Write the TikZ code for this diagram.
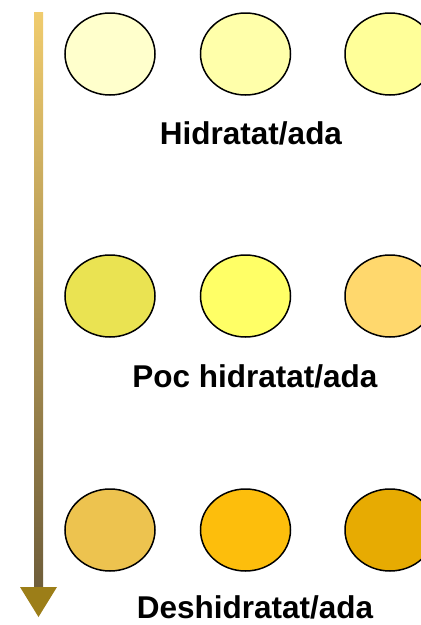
\documentclass[tikz,border=0pt]{standalone}
\usepackage{fontspec}
\setmainfont{Liberation Sans}
\definecolor{shafttop}{HTML}{F0CC6E}
\definecolor{shaftbot}{HTML}{6F5E3A}
\definecolor{headcol}{HTML}{9C7E18}
\definecolor{hidA}{HTML}{FFFFCC}
\definecolor{hidB}{HTML}{FFFFAA}
\definecolor{hidC}{HTML}{FFFF99}
\definecolor{pocA}{HTML}{EAE352}
\definecolor{pocB}{HTML}{FFFF66}
\definecolor{pocC}{HTML}{FFD86D}
\definecolor{desA}{HTML}{EDC34F}
\definecolor{desB}{HTML}{FDBE0C}
\definecolor{desC}{HTML}{E7AB02}
\begin{document}
\begin{tikzpicture}[x=1pt,y=-1pt,
  drop/.style={draw=black,line width=1.5pt},
  label/.style={anchor=base,font=\fontsize{31.5}{36}\selectfont\bfseries,inner sep=0pt}]
\useasboundingbox (0,0) rectangle (421,625);
\clip (0,0) rectangle (421,625);

\coordinate (top) at (38.5,12);
\coordinate (bot) at (38.5,587);
\coordinate (tip) at (38.5,617);

\shade[top color=shafttop,bottom color=shaftbot] ([xshift=-4.5pt]top) rectangle ([xshift=4.5pt]bot);
\fill[headcol] ([xshift=-18.5pt]bot) -- ([xshift=18.5pt]bot) -- (tip) -- cycle;

\coordinate (h1) at (110,54);
\coordinate (h2) at (245.5,54);
\coordinate (h3) at (390,54);
\coordinate (p1) at (110,296);
\coordinate (p2) at (245.5,296);
\coordinate (p3) at (390,296);
\coordinate (d1) at (110,530);
\coordinate (d2) at (245.5,530);
\coordinate (d3) at (390,530);

\draw[drop,fill=hidA] (h1) ellipse (45pt and 41pt);
\draw[drop,fill=hidB] (h2) ellipse (45pt and 41pt);
\draw[drop,fill=hidC] (h3) ellipse (45pt and 41pt);
\draw[drop,fill=pocA] (p1) ellipse (45pt and 41pt);
\draw[drop,fill=pocB] (p2) ellipse (45pt and 41pt);
\draw[drop,fill=pocC] (p3) ellipse (45pt and 41pt);
\draw[drop,fill=desA] (d1) ellipse (45pt and 41pt);
\draw[drop,fill=desB] (d2) ellipse (45pt and 41pt);
\draw[drop,fill=desC] (d3) ellipse (45pt and 41pt);

\node[label] (hid) at (251,144) {Hidratat/ada};
\node[label] (poc) at (255,387) {Poc hidratat/ada};
\node[label] (des) at (255,618) {Deshidratat/ada};
\end{tikzpicture}
\end{document}
